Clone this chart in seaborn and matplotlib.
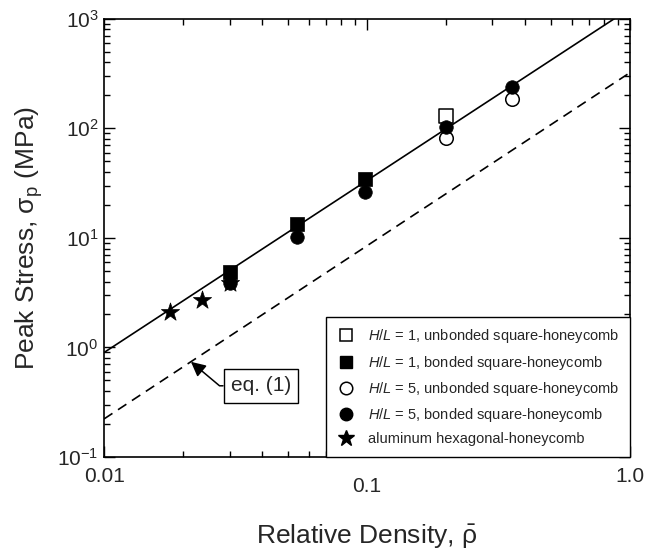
import numpy as np
import pandas as pd
import matplotlib
matplotlib.use("Agg")
import matplotlib.pyplot as plt
import seaborn as sns
from matplotlib.ticker import NullFormatter, LogLocator
from matplotlib.lines import Line2D

# data
rho_sq_unb1 = [0.2]
sig_sq_unb1 = [129]

rho_sq_b1 = [0.03, 0.054, 0.098]
sig_sq_b1 = [4.9, 13.3, 34.3]

rho_unb5 = [0.2, 0.356]
sig_unb5 = [81, 185]

rho_b5 = [0.03, 0.054, 0.098, 0.2, 0.356]
sig_b5 = [3.9, 10.3, 26.0, 103, 239]

rho_alu = [0.0178, 0.0236, 0.03]
sig_alu = [2.12, 2.74, 3.9]

# fit line and eq. (1) line end points
rho_fit = [0.01, 1.0]
sig_fit = [0.9, 1240]
rho_eq1 = [0.01, 1.0]
sig_eq1 = [0.223, 322]

labels = ["$\\it{H/L}$ = 1, unbonded square-honeycomb",
          "$\\it{H/L}$ = 1, bonded square-honeycomb",
          "$\\it{H/L}$ = 5, unbonded square-honeycomb",
          "$\\it{H/L}$ = 5, bonded square-honeycomb",
          "aluminum hexagonal-honeycomb"]

sns.set_style("ticks")
plt.rcParams["font.family"] = ["Liberation Sans", "DejaVu Sans"]
plt.rcParams["mathtext.fontset"] = "custom"
plt.rcParams["mathtext.rm"] = "Liberation Sans"
plt.rcParams["mathtext.it"] = "Liberation Sans:italic"
plt.rcParams["mathtext.bf"] = "Liberation Sans:bold"

fig = plt.figure(figsize=(6.63, 5.52), dpi=100)
ax = fig.add_axes([0.157, 0.172, 0.793, 0.794])

fit = pd.DataFrame({"rho": rho_fit, "sig": sig_fit})
eq1 = pd.DataFrame({"rho": rho_eq1, "sig": sig_eq1})
sns.lineplot(data=fit, x="rho", y="sig", ax=ax, color="black", lw=1.2, zorder=2)
sns.lineplot(data=eq1, x="rho", y="sig", ax=ax, color="black", lw=1.2,
             dashes=False, zorder=2)
ax.lines[-1].set_dashes([6, 4])

ms = 95
sns.scatterplot(x=rho_sq_unb1, y=sig_sq_unb1, ax=ax, marker="s", s=ms,
                facecolor="white", edgecolor="black", linewidth=1.1, zorder=3)
sns.scatterplot(x=rho_unb5, y=sig_unb5, ax=ax, marker="o", s=ms,
                facecolor="white", edgecolor="black", linewidth=1.1, zorder=3)
sns.scatterplot(x=rho_alu, y=sig_alu, ax=ax, marker="*", s=190,
                color="black", edgecolor="black", linewidth=0.5, zorder=4)
sns.scatterplot(x=rho_sq_b1, y=sig_sq_b1, ax=ax, marker="s", s=ms,
                color="black", edgecolor="black", linewidth=0.5, zorder=4)
sns.scatterplot(x=rho_b5, y=sig_b5, ax=ax, marker="o", s=ms,
                color="black", edgecolor="black", linewidth=0.5, zorder=5)

ax.set_xscale("log")
ax.set_yscale("log")
ax.set_xlim(0.01, 1.0)
ax.set_ylim(0.1, 1000)

ax.set_xticks([0.01, 0.1, 1.0])
ax.set_xticklabels(["0.01", "0.1", "1.0"])
ax.xaxis.set_minor_locator(LogLocator(base=10, subs=np.arange(2, 10)))
ax.xaxis.set_minor_formatter(NullFormatter())
ax.yaxis.set_major_locator(LogLocator(base=10, numticks=10))
ax.yaxis.set_minor_locator(LogLocator(base=10, subs=np.arange(2, 10), numticks=10))
ax.yaxis.set_minor_formatter(NullFormatter())

ax.tick_params(which="both", direction="in", top=True, right=True,
               width=1.0, color="black", labelsize=15)
ax.tick_params(which="major", length=8, pad=7)
ax.tick_params(which="minor", length=4.5)
ax.xaxis.get_major_ticks()[1].set_pad(14)
ax.tick_params(axis="y", which="major", pad=4)
for sp in ax.spines.values():
    sp.set_linewidth(1.2)
    sp.set_color("black")

ax.set_xlabel("Relative Density, $\\bar{\\mathrm{\\rho}}$", fontsize=19, labelpad=19)
ax.set_ylabel("Peak Stress, $\\mathrm{\\sigma_p}$ (MPa)", fontsize=19, labelpad=9)

ax.annotate("eq. (1)", xy=(0.0214, 0.74), xytext=(0.0395, 0.447),
            fontsize=15, ha="center", va="center",
            bbox=dict(boxstyle="square,pad=0.35", fc="white", ec="black", lw=1),
            arrowprops=dict(arrowstyle="-|>", color="black", lw=1.1,
                            connectionstyle="angle,angleA=0,angleB=-40,rad=0",
                            shrinkA=0, shrinkB=0, mutation_scale=22),
            zorder=6)

handles = [
    Line2D([], [], ls="", marker="s", ms=9, mfc="white", mec="black", mew=1.1),
    Line2D([], [], ls="", marker="s", ms=9, mfc="black", mec="black"),
    Line2D([], [], ls="", marker="o", ms=9, mfc="white", mec="black", mew=1.1),
    Line2D([], [], ls="", marker="o", ms=9, mfc="black", mec="black"),
    Line2D([], [], ls="", marker="*", ms=12, mfc="black", mec="black"),
]
leg = ax.legend(handles, labels, loc="lower right", bbox_to_anchor=(1, 0),
                borderaxespad=0, fontsize=10.5, frameon=True, fancybox=False,
                framealpha=1, edgecolor="black", handlelength=1.2,
                handletextpad=0.9, labelspacing=0.56, borderpad=0.75)
leg.get_frame().set_linewidth(1.0)
leg.set_zorder(7)

fig.savefig("out.png", dpi=100)
